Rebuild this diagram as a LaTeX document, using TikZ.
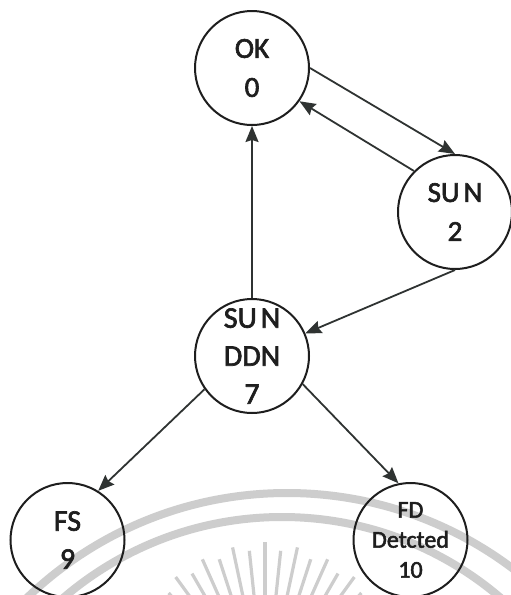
\documentclass[tikz,border=0pt]{standalone}
\usepackage{fontspec}
\setmainfont{Carlito}
\newfontfamily\statefont{Carlito}[FakeBold=2.2]
\usetikzlibrary{arrows.meta}
\definecolor{ink}{HTML}{1E1E1E}
\definecolor{edgeink}{HTML}{2F3332}
\definecolor{mark}{HTML}{CDCDCD}
\tikzset{
  state/.style={circle, draw=ink, line width=2pt, minimum size=114pt,
    inner sep=0pt, align=center, text=ink,
    font=\statefont\fontsize{29}{39}\selectfont},
  trans/.style={draw=edgeink, line width=1.8pt,
    -{Stealth[length=16pt, width=13pt, inset=2pt]}},
  markline/.style={draw=mark, line width=8pt},
  markray/.style={draw=mark, line width=3.2pt}
}
\begin{document}
\begin{tikzpicture}[x=1pt, y=-1pt]
  \useasboundingbox (0,0) rectangle (511,595);
  \fill[white] (0,0) rectangle (511,595);

  % faint seal in the background
  \begin{scope}
    \clip (0,0) rectangle (511,595);
    \draw[markline] (287,868) circle[radius=375];
    \draw[markline] (282,853) circle[radius=336];
    \foreach \a/\l in {48/42,54/50,60/44,66/52,72/46,78/54,84/48,90/56,
                       96/48,102/54,108/46,114/52,120/44,126/50,132/42}
      \draw[markray] (265,700) ++(-\a:102) -- ++(-\a:\l);
  \end{scope}

  % states
  \node[state] (ok)   at (252,68)    {OK\\0};
  \node[state] (sun)  at (455,212)   {SU\kern4pt N\\2};
  \node[state, font=\statefont\fontsize{30}{38}\selectfont]
               (ddn)  at (252,356)   {SU\kern4pt N\\DDN\\7};
  \node[state, font=\statefont\fontsize{30}{38}\selectfont]
               (fs)   at (67.5,540)  {FS\\9};
  \node[state, font=\statefont\fontsize{24}{30}\selectfont]
               (fd)   at (410.5,540) {FD\\Detcted\\10};

  % transitions
  \draw[trans] (ok.east)   -- (sun.north);
  \draw[trans] (sun.135)   -- (ok.-35);
  \draw[trans] (sun.south) -- (ddn.23);
  \draw[trans] (ddn.north) -- (ok.south);
  \draw[trans] (ddn.215)   -- (fs.58);
  \draw[trans] (ddn.331)   -- (fd.102);
\end{tikzpicture}
\end{document}
